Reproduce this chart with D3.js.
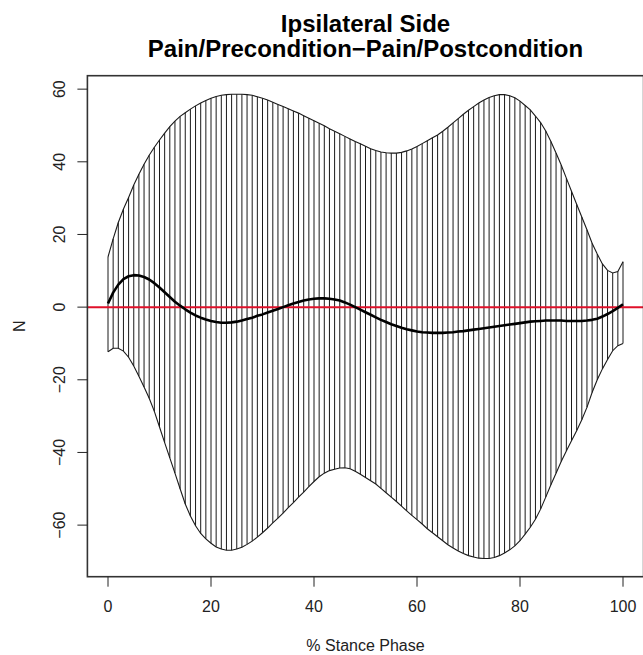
<!DOCTYPE html>
<html>
<head>
<meta charset="utf-8">
<script src="https://cdn.jsdelivr.net/npm/d3@7"></script>
<style>
  html, body { margin: 0; padding: 0; background: #fff; }
  svg { display: block; font-family: "Liberation Sans", Arial, sans-serif; }
</style>
</head>
<body>
<svg id="chart" width="643" height="655"></svg>
<script>
// ---- data ----
const titleLines = ["Ipsilateral Side", "Pain/Precondition\u2212Pain/Postcondition"];
const xLabel = "% Stance Phase";
const yLabel = "N";
const xTicks = [0, 20, 40, 60, 80, 100];
const yTicks = [-60, -40, -20, 0, 20, 40, 60];

// % stance phase 0..100
const stance = d3.range(0, 101);

const upperBound = [
  13.8, 18.8, 23.3, 27.0, 30.2, 33.6, 36.6, 39.3, 41.8, 44.0,
  46.0, 47.9, 49.7, 51.2, 52.5, 53.5, 54.5, 55.4, 56.2, 56.9,
  57.5, 58.0, 58.3, 58.5, 58.6, 58.6, 58.6, 58.5, 58.3, 57.9,
  57.5, 57.0, 56.4, 55.8, 55.2, 54.6, 54.0, 53.4, 52.7, 52.0,
  51.3, 50.6, 49.9, 49.1, 48.4, 47.7, 47.0, 46.3, 45.6, 45.0,
  44.3, 43.6, 43.1, 42.7, 42.5, 42.4, 42.4, 42.6, 43.0, 43.5,
  44.2, 45.0, 45.8, 46.6, 47.4, 48.4, 49.5, 50.7, 51.9, 53.1,
  54.2, 55.2, 56.2, 57.0, 57.7, 58.2, 58.5, 58.5, 58.2, 57.6,
  56.7, 55.5, 54.3, 52.6, 50.8, 48.5, 45.6, 42.4, 39.1, 35.5,
  31.9, 28.3, 24.8, 21.3, 17.6, 14.6, 11.9, 10.1, 9.4, 9.8,
  12.5
];

const lowerBound = [
  -12.3, -11.3, -11.3, -12.1, -13.8, -16.2, -19.0, -22.0, -25.1, -28.7,
  -33.0, -37.3, -41.5, -45.7, -50.0, -54.2, -57.5, -60.2, -62.3, -63.8,
  -65.0, -66.0, -66.6, -66.9, -66.9, -66.6, -66.1, -65.3, -64.4, -63.3,
  -62.1, -60.8, -59.4, -58.1, -56.7, -55.2, -53.8, -52.3, -50.9, -49.4,
  -48.0, -46.7, -45.7, -45.0, -44.6, -44.3, -44.2, -44.5, -45.2, -46.0,
  -46.9, -47.8, -48.7, -49.9, -51.1, -52.3, -53.5, -54.8, -56.1, -57.3,
  -58.5, -59.7, -61.0, -62.1, -63.2, -64.3, -65.4, -66.3, -67.1, -67.8,
  -68.4, -68.8, -69.1, -69.2, -69.2, -68.9, -68.4, -67.7, -66.8, -65.7,
  -64.3, -62.5, -60.6, -58.4, -55.6, -52.3, -48.9, -45.7, -42.5, -39.6,
  -36.8, -34.0, -31.0, -27.6, -23.5, -20.0, -17.0, -14.4, -12.0, -10.6,
  -10.0
];

const meanDiff = [
  1.0, 4.0, 6.2, 7.7, 8.5, 8.8, 8.7, 8.3, 7.6, 6.6,
  5.4, 4.1, 2.8, 1.5, 0.4, -0.6, -1.5, -2.3, -2.9, -3.4,
  -3.8, -4.1, -4.3, -4.3, -4.2, -4.0, -3.7, -3.3, -2.9, -2.4,
  -2.0, -1.5, -1.0, -0.5, 0.0, 0.5, 1.0, 1.4, 1.8, 2.1,
  2.3, 2.4, 2.4, 2.3, 2.1, 1.8, 1.3, 0.7, 0.0, -0.7,
  -1.4, -2.1, -2.8, -3.5, -4.1, -4.7, -5.2, -5.7, -6.1, -6.4,
  -6.7, -6.9, -7.0, -7.1, -7.1, -7.1, -7.0, -6.9, -6.7, -6.6,
  -6.4, -6.2, -6.0, -5.8, -5.6, -5.4, -5.2, -5.0, -4.8, -4.6,
  -4.4, -4.2, -4.0, -3.9, -3.8, -3.7, -3.7, -3.7, -3.7, -3.8,
  -3.8, -3.8, -3.8, -3.7, -3.5, -3.2, -2.6, -1.9, -1.1, -0.2,
  0.8
];

const referenceLevel = 0;

// ---- layout ----
const svg = d3.select("#chart");
const plot = { left: 87.4, right: 643.6, top: 75.7, bottom: 576.7 };

const x = d3.scaleLinear().domain([-4, 104]).range([plot.left, plot.right]);
const y = d3.scaleLinear().domain([-74.2, 63.7]).range([plot.bottom, plot.top]);

const pts = stance.map((s, i) => ({ s, lo: lowerBound[i], hi: upperBound[i], m: meanDiff[i] }));

// hatch: vertical segments between lower and upper bound
svg.append("g").selectAll("line").data(pts).join("line")
  .attr("x1", d => x(d.s)).attr("x2", d => x(d.s))
  .attr("y1", d => y(d.lo)).attr("y2", d => y(d.hi))
  .attr("stroke", "#1a1a1a").attr("stroke-width", 1);

const lineGen = acc => d3.line().x(d => x(d.s)).y(d => y(acc(d)));

svg.append("path").datum(pts).attr("d", lineGen(d => d.hi))
  .attr("fill", "none").attr("stroke", "#1a1a1a").attr("stroke-width", 1.1);
svg.append("path").datum(pts).attr("d", lineGen(d => d.lo))
  .attr("fill", "none").attr("stroke", "#1a1a1a").attr("stroke-width", 1.1);

// reference line at 0
svg.append("line")
  .attr("x1", plot.left).attr("x2", plot.right)
  .attr("y1", y(referenceLevel)).attr("y2", y(referenceLevel))
  .attr("stroke", "#e0102a").attr("stroke-width", 2);

// mean difference
svg.append("path").datum(pts).attr("d", lineGen(d => d.m))
  .attr("fill", "none").attr("stroke", "#000").attr("stroke-width", 2.6)
  .attr("stroke-linejoin", "round");

// box
svg.append("rect")
  .attr("x", plot.left).attr("y", plot.top)
  .attr("width", plot.right - plot.left).attr("height", plot.bottom - plot.top)
  .attr("fill", "none").attr("stroke", "#333").attr("stroke-width", 1.6);

// x axis ticks
const gx = svg.append("g");
gx.selectAll("line").data(xTicks).join("line")
  .attr("x1", d => x(d)).attr("x2", d => x(d))
  .attr("y1", plot.bottom).attr("y2", plot.bottom + 10)
  .attr("stroke", "#222").attr("stroke-width", 1);
gx.selectAll("text").data(xTicks).join("text")
  .attr("x", d => x(d)).attr("y", 611.5)
  .attr("text-anchor", "middle").attr("font-size", 16).attr("fill", "#222")
  .text(d => d);

// y axis ticks
const gy = svg.append("g");
gy.selectAll("line").data(yTicks).join("line")
  .attr("x1", plot.left - 10).attr("x2", plot.left)
  .attr("y1", d => y(d)).attr("y2", d => y(d))
  .attr("stroke", "#222").attr("stroke-width", 1);
gy.selectAll("text").data(yTicks).join("text")
  .attr("transform", d => `translate(65,${y(d)}) rotate(-90)`)
  .attr("text-anchor", "middle").attr("font-size", 16).attr("fill", "#222")
  .text(d => d < 0 ? "\u2212" + Math.abs(d) : d);

// axis labels
svg.append("text").attr("x", (plot.left + plot.right) / 2).attr("y", 651)
  .attr("text-anchor", "middle").attr("font-size", 16).attr("fill", "#222")
  .text(xLabel);
svg.append("text")
  .attr("transform", `translate(25,${(plot.top + plot.bottom) / 2}) rotate(-90)`)
  .attr("text-anchor", "middle").attr("font-size", 16).attr("fill", "#222")
  .text(yLabel);

// title
svg.append("g").selectAll("text").data(titleLines).join("text")
  .attr("x", (plot.left + plot.right) / 2)
  .attr("y", (d, i) => 32 + i * 25)
  .attr("text-anchor", "middle").attr("font-size", 24).attr("font-weight", "bold")
  .attr("fill", "#000")
  .text(d => d);
</script>
</body>
</html>
